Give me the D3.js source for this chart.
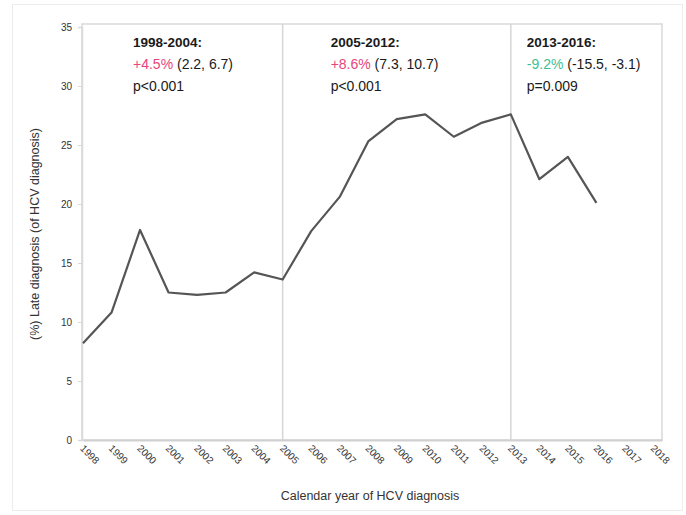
<!DOCTYPE html>
<html>
<head>
<meta charset="utf-8">
<script src="https://cdn.jsdelivr.net/npm/d3@7"></script>
<style>
  html, body { margin: 0; padding: 0; background: #fff; }
  svg { display: block; font-family: "Liberation Sans", Arial, sans-serif; }
</style>
</head>
<body>
<svg id="chart" width="686" height="515"></svg>
<script>
// ---- data ----
const years = [1998,1999,2000,2001,2002,2003,2004,2005,2006,2007,2008,2009,2010,2011,2012,2013,2014,2015,2016];
const lateDiagnosis = [8.2,10.8,17.8,12.5,12.3,12.5,14.2,13.6,17.7,20.6,25.3,27.2,27.6,25.7,26.9,27.6,22.1,24.0,20.1];
const tickYears = [1998,1999,2000,2001,2002,2003,2004,2005,2006,2007,2008,2009,2010,2011,2012,2013,2014,2015,2016,2017,2018];
const yTicks = [0,5,10,15,20,25,30,35];
const breakYears = [2005, 2013];
const periodLabels = ["1998-2004:", "2005-2012:", "2013-2016:"];
const periodChange = ["+4.5%", "+8.6%", "-9.2%"];
const periodCI = [" (2.2, 6.7)", " (7.3, 10.7)", " (-15.5, -3.1)"];
const periodP = ["p<0.001", "p<0.001", "p=0.009"];
const periodStart = [1998, 2005, 2013];
const yTitle = "(%) Late diagnosis (of HCV diagnosis)";
const xTitle = "Calendar year of HCV diagnosis";

// ---- layout ----
const svg = d3.select("#chart");
const pL = 82, pR = 662, pT = 24, pB = 440;
const x = d3.scaleLinear().domain([1998, 2018.3]).range([83, pR]);
const y = d3.scaleLinear().domain([0, 35]).range([pB, 27]);

// outer chart border
svg.append("rect").attr("x", 12.5).attr("y", 4.5).attr("width", 670).attr("height", 506)
  .attr("fill", "none").attr("stroke", "#ececec");

// plot frame
svg.append("rect").attr("x", pL).attr("y", pT).attr("width", pR - pL).attr("height", pB - pT)
  .attr("fill", "#fff").attr("stroke", "#d9d9d9").attr("stroke-width", 1.5);

// break lines
svg.selectAll("line.brk").data(breakYears).join("line").attr("class", "brk")
  .attr("x1", d => x(d)).attr("x2", d => x(d)).attr("y1", pT).attr("y2", pB)
  .attr("stroke", "#d6d6d6").attr("stroke-width", 1.5);

// y axis
const yAxis = d3.axisLeft(y).tickValues(yTicks).tickSize(4).tickFormat(d3.format("d"));
const gy = svg.append("g").attr("transform", `translate(${pL},0)`).call(yAxis);
gy.select(".domain").attr("stroke", "#d9d9d9").attr("stroke-width", 1.5);
gy.selectAll(".tick line").attr("stroke", "#d9d9d9");
gy.selectAll(".tick text").attr("font-size", 10).attr("fill", "#333").attr("x", -10)
  .attr("font-family", "Liberation Sans, Arial, sans-serif");

// x axis
const xAxis = d3.axisBottom(x).tickValues(tickYears).tickSize(0).tickFormat(d3.format("d"));
const gx = svg.append("g").attr("transform", `translate(0,${pB})`).call(xAxis);
gx.select(".domain").attr("stroke", "#d0d0d0").attr("stroke-width", 2);
gx.selectAll(".tick text").attr("font-size", 10).attr("fill", "#333")
  .attr("font-family", "Liberation Sans, Arial, sans-serif")
  .attr("text-anchor", "start").attr("dy", 0).attr("y", 0)
  .attr("transform", "translate(-4,9) rotate(45)");

// line
const line = d3.line().x((d, i) => x(years[i])).y(d => y(d));
svg.append("path").datum(lateDiagnosis).attr("d", line)
  .attr("fill", "none").attr("stroke", "#555").attr("stroke-width", 2.2).attr("stroke-linejoin", "round");

// annotations
const changeColors = ["#e8457c", "#e8457c", "#3fbf95"];
const annOffset = [50, 48, 16];
periodLabels.forEach((lab, i) => {
  const tx = x(periodStart[i]) + annOffset[i];
  const g = svg.append("g").attr("font-size", 14).attr("fill", "#1a1a1a");
  g.append("text").attr("x", tx).attr("y", 47).attr("font-weight", "bold").attr("font-size", 13.5).text(lab);
  const t2 = g.append("text").attr("x", tx).attr("y", 69);
  t2.append("tspan").attr("fill", changeColors[i]).text(periodChange[i]);
  t2.append("tspan").text(periodCI[i]);
  g.append("text").attr("x", tx).attr("y", 91).text(periodP[i]);
});

// axis titles
svg.append("text").attr("transform", `translate(39,${(pT + pB) / 2 + 2}) rotate(-90)`)
  .attr("text-anchor", "middle").attr("font-size", 12.5).attr("fill", "#333").text(yTitle);
svg.append("text").attr("x", 370).attr("y", 500).attr("text-anchor", "middle")
  .attr("font-size", 12.5).attr("fill", "#333").text(xTitle);
</script>
</body>
</html>
